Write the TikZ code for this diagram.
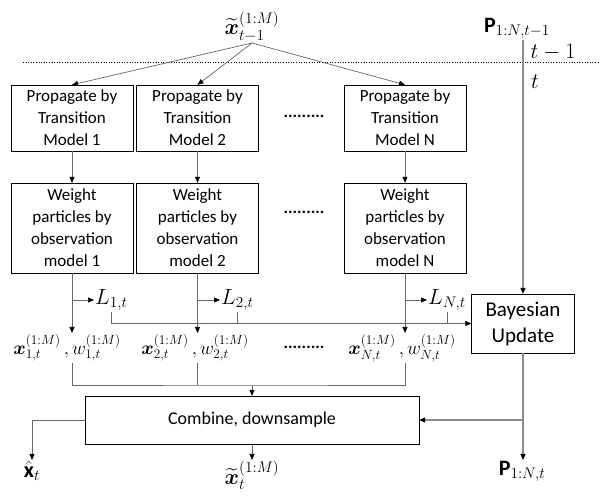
\RequirePackage{fix-cm}
\documentclass[tikz,border=0pt]{standalone}
\usepackage{amsmath,bm}
\usepackage{fontspec}
\setmainfont{Carlito}
\usetikzlibrary{arrows.meta}

\begin{document}
\begin{tikzpicture}[x=1pt, y=-1pt,
  every node/.style={font=\fontsize{17}{22}\selectfont},
  box/.style={draw, align=center, minimum width=122pt, minimum height=66pt, inner sep=2pt},
  wbox/.style={box, minimum height=90pt},
  lbl/.style={inner sep=1pt, font=\fontsize{22}{25}\selectfont},
  slbl/.style={inner sep=1pt, font=\fontsize{19}{22}\selectfont},
  wire/.style={draw=black!60, line width=0.7pt},
  link/.style={wire, -{Triangle[length=6pt,width=5pt,color=black]}},
  plink/.style={link, draw=black!45, line width=1.2pt}
]
  \useasboundingbox (0,0) rectangle (600,502);

  % time step boundary
  \draw[dotted, line width=0.6pt] (23,62) -- (600,62);
  \node[lbl] (tprev) at (553,52) {$t-1$};
  \node[lbl] (tnow) at (535,82) {$t$};

  % inputs
  \node[lbl, anchor=south] (xprev) at (252,43) {$\widetilde{\bm{x}}_{t-1}^{(1:M)}$};
  \node[lbl, anchor=south] (pprev) at (517,40) {$\mathbf{P}_{1:N,t-1}$};

  % propagation and weighting per model
  \node[box] (prop1) at (72,118) {Propagate by\\Transition\\Model 1};
  \node[box] (prop2) at (197.5,118) {Propagate by\\Transition\\Model 2};
  \node[box] (propN) at (405,118) {Propagate by\\Transition\\Model N};
  \node (dots1) at (304,116) {\textbf{.........}};

  \node[wbox] (wt1) at (72,228) {Weight\\particles by\\observation\\model 1};
  \node[wbox] (wt2) at (197.5,228) {Weight\\particles by\\observation\\model 2};
  \node[wbox] (wtN) at (405,228) {Weight\\particles by\\observation\\model N};
  \node (dots2) at (304,212) {\textbf{.........}};

  \draw[link] (xprev.south) -- (prop1.north);
  \draw[link] (xprev.south) -- (prop2.north);
  \draw[link] (xprev.south) -- (propN.north);
  \draw[link] (prop1.south) -- (wt1.north);
  \draw[link] (prop2.south) -- (wt2.north);
  \draw[link] (propN.south) -- (wtN.north);

  % likelihoods
  \node[lbl, anchor=west] (L1) at (94,300) {$L_{1,t}$};
  \node[lbl, anchor=west] (L2) at (220,300) {$L_{2,t}$};
  \node[lbl, anchor=west] (LN) at (427,300) {$L_{N,t}$};

  \node[box, minimum width=103pt, minimum height=59pt, font=\fontsize{21}{26}\selectfont]
    (bayes) at (523,323.5) {Bayesian\\Update};

  \draw[link] (wt1.south |- L1.west) -- (L1.west);
  \draw[link] (wt2.south |- L2.west) -- (L2.west);
  \draw[link] (wtN.south |- LN.west) -- (LN.west);
  \draw[link] (L1.south) |- (bayes.west);
  \draw[wire] (L2.south) -- (L2.south |- bayes.west);
  \draw[wire] (LN.south) -- (LN.south |- bayes.west);
  \draw[plink] (bayes.north |- pprev.south) -- (bayes.north);

  % weighted particles
  \node[slbl, anchor=north] (x1) at (67,333) {$\bm{x}_{1,t}^{(1:M)}\,,w_{1,t}^{(1:M)}$};
  \node[slbl, anchor=north] (x2) at (195,333) {$\bm{x}_{2,t}^{(1:M)}\,,w_{2,t}^{(1:M)}$};
  \node[slbl, anchor=north] (xN) at (402,333) {$\bm{x}_{N,t}^{(1:M)}\,,w_{N,t}^{(1:M)}$};
  \node (dots3) at (304,347) {\textbf{.........}};

  \draw[link] (wt1.south) -- (wt1.south |- x1.north);
  \draw[link] (wt2.south) -- (wt2.south |- x2.north);
  \draw[link] (wtN.south) -- (wtN.south |- xN.north);

  % combine
  \node[box, minimum width=334pt, minimum height=48pt, font=\fontsize{18}{22}\selectfont]
    (comb) at (252,420) {Combine, downsample};
  \coordinate (join) at (252,385);
  \draw[wire] (wt1.south |- x1.south) |- (join) -| (wtN.south |- xN.south);
  \draw[wire] (wt2.south |- x2.south) -- (wt2.south |- join);
  \draw[link] (join) -- (comb.north);

  % outputs
  \node[lbl, anchor=north] (xhat) at (32,460) {$\hat{\mathbf{x}}_t$};
  \node[lbl, anchor=north] (xnew) at (252,460) {$\widetilde{\bm{x}}_{t}^{(1:M)}$};
  \node[lbl, anchor=north] (pnew) at (522,460) {$\mathbf{P}_{1:N,t}$};

  \draw[link] (comb.west) -| (xhat.north);
  \draw[link] (comb.south) -- (xnew.north);
  \draw[plink] (bayes.south) -- (bayes.south |- pnew.north);
  \draw[plink] (bayes.south |- comb.east) -- (comb.east);
\end{tikzpicture}
\end{document}
